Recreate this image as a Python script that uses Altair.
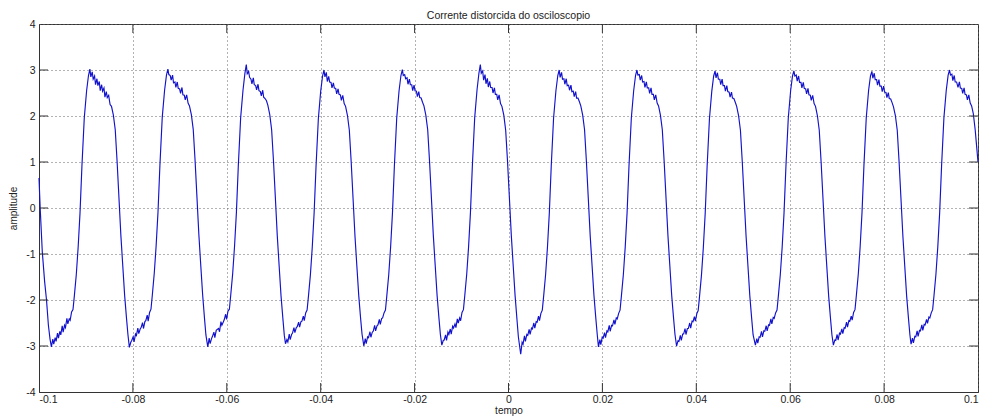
import altair as alt
import pandas as pd

# Oscilloscope capture: sample times (s) and current amplitude, one pair of lists per cycle.
tempo_0 = [-0.10000, -0.09975, -0.09930, -0.09880, -0.09840, -0.09800, -0.09765]
amp_0 = [0.65, 0.00, -0.95, -1.60, -2.00, -2.55, -2.85]

tempo_1 = [-0.09736, -0.09706, -0.09686, -0.09656, -0.09636, -0.09606, -0.09586, -0.09556, -0.09536, -0.09506, -0.09486, -0.09456, -0.09436, -0.09406, -0.09386, -0.09356, -0.09336, -0.09306,
           -0.09276, -0.09246, -0.09206, -0.09166, -0.09126, -0.09086, -0.09036, -0.08986, -0.08946, -0.08916,
           -0.08896, -0.08866, -0.08846, -0.08816, -0.08796, -0.08766, -0.08746, -0.08716, -0.08696, -0.08666, -0.08646, -0.08616, -0.08596, -0.08566, -0.08546, -0.08516, -0.08486, -0.08456,
           -0.08416, -0.08376, -0.08336, -0.08296, -0.08256, -0.08216, -0.08176, -0.08136, -0.08106]
amp_1 = [-3.02, -2.85, -2.96, -2.82, -2.90, -2.72, -2.83, -2.68, -2.76, -2.56, -2.70, -2.55, -2.60, -2.40, -2.52, -2.41, -2.44, -2.26,
         -2.21, -1.90, -1.45, -0.85, -0.10, 0.90, 1.95, 2.55, 2.88, 3.02,
         2.85, 2.96, 2.80, 2.87, 2.68, 2.81, 2.66, 2.75, 2.55, 2.68, 2.54, 2.61, 2.41, 2.53, 2.40, 2.45, 2.25, 2.21,
         2.02, 1.70, 1.00, 0.20, -0.60, -1.25, -1.90, -2.40, -2.75]

tempo_2 = [-0.08075, -0.08045, -0.08025, -0.07995, -0.07975, -0.07945, -0.07925, -0.07895, -0.07875, -0.07845, -0.07825, -0.07795, -0.07775, -0.07745, -0.07725, -0.07695, -0.07675, -0.07645,
           -0.07615, -0.07585, -0.07545, -0.07505, -0.07465, -0.07425, -0.07375, -0.07325, -0.07285, -0.07255,
           -0.07235, -0.07205, -0.07185, -0.07155, -0.07135, -0.07105, -0.07085, -0.07055, -0.07035, -0.07005, -0.06985, -0.06955, -0.06935, -0.06905, -0.06885, -0.06855, -0.06825, -0.06795,
           -0.06755, -0.06715, -0.06675, -0.06635, -0.06595, -0.06555, -0.06515, -0.06475, -0.06445]
amp_2 = [-3.03, -2.92, -2.88, -2.80, -2.91, -2.74, -2.77, -2.61, -2.73, -2.63, -2.60, -2.49, -2.62, -2.47, -2.45, -2.33, -2.46, -2.27,
         -2.20, -1.88, -1.42, -0.82, -0.08, 0.92, 1.97, 2.56, 2.89, 3.02,
         2.90, 2.88, 2.78, 2.89, 2.72, 2.74, 2.62, 2.74, 2.60, 2.59, 2.49, 2.62, 2.46, 2.45, 2.35, 2.46, 2.28, 2.22,
         2.03, 1.71, 1.02, 0.22, -0.58, -1.24, -1.88, -2.40, -2.76]

tempo_3 = [-0.06405, -0.06375, -0.06355, -0.06325, -0.06305, -0.06275, -0.06255, -0.06225, -0.06205, -0.06175, -0.06155, -0.06125, -0.06105, -0.06075, -0.06055, -0.06025, -0.06005, -0.05975,
           -0.05945, -0.05915, -0.05875, -0.05835, -0.05795, -0.05755, -0.05705, -0.05655, -0.05615, -0.05585,
           -0.05565, -0.05535, -0.05515, -0.05485, -0.05465, -0.05435, -0.05415, -0.05385, -0.05365, -0.05335, -0.05315, -0.05285, -0.05265, -0.05235, -0.05215, -0.05185, -0.05155, -0.05125,
           -0.05085, -0.05045, -0.05005, -0.04965, -0.04925, -0.04885, -0.04845, -0.04805, -0.04775]
amp_3 = [-3.02, -2.83, -2.95, -2.84, -2.79, -2.70, -2.82, -2.66, -2.64, -2.62, -2.69, -2.47, -2.55, -2.48, -2.43, -2.31, -2.42, -2.24,
         -2.20, -1.88, -1.43, -0.83, -0.09, 0.91, 1.96, 2.56, 2.92, 3.12,
         2.92, 2.97, 2.84, 2.80, 2.70, 2.83, 2.68, 2.66, 2.57, 2.69, 2.55, 2.53, 2.44, 2.56, 2.41, 2.38, 2.33, 2.23,
         2.03, 1.70, 1.01, 0.21, -0.60, -1.26, -1.91, -2.41, -2.77]

tempo_4 = [-0.04750, -0.04720, -0.04700, -0.04670, -0.04650, -0.04620, -0.04600, -0.04570, -0.04550, -0.04520, -0.04500, -0.04470, -0.04450, -0.04420, -0.04400, -0.04370, -0.04350, -0.04320,
           -0.04290, -0.04260, -0.04220, -0.04180, -0.04140, -0.04100, -0.04050, -0.04000, -0.03960, -0.03930,
           -0.03910, -0.03880, -0.03860, -0.03830, -0.03810, -0.03780, -0.03760, -0.03730, -0.03710, -0.03680, -0.03660, -0.03630, -0.03610, -0.03580, -0.03560, -0.03530, -0.03500, -0.03470,
           -0.03430, -0.03390, -0.03350, -0.03310, -0.03270, -0.03230, -0.03190, -0.03150, -0.03120]
amp_4 = [-2.95, -2.86, -2.91, -2.74, -2.86, -2.75, -2.72, -2.60, -2.71, -2.60, -2.58, -2.48, -2.59, -2.47, -2.46, -2.35, -2.45, -2.28,
         -2.22, -1.91, -1.46, -0.86, -0.11, 0.89, 1.94, 2.54, 2.87, 3.00,
         2.85, 2.95, 2.75, 2.86, 2.74, 2.73, 2.61, 2.72, 2.61, 2.60, 2.48, 2.59, 2.47, 2.46, 2.34, 2.45, 2.27, 2.21,
         2.01, 1.69, 0.99, 0.19, -0.61, -1.26, -1.90, -2.40, -2.74]

tempo_5 = [-0.03081, -0.03051, -0.03031, -0.03001, -0.02981, -0.02951, -0.02931, -0.02901, -0.02881, -0.02851, -0.02831, -0.02801, -0.02781, -0.02751, -0.02731, -0.02701, -0.02681, -0.02651,
           -0.02621, -0.02591, -0.02551, -0.02511, -0.02471, -0.02431, -0.02381, -0.02331, -0.02291, -0.02261,
           -0.02241, -0.02211, -0.02191, -0.02161, -0.02141, -0.02111, -0.02091, -0.02061, -0.02041, -0.02011, -0.01991, -0.01961, -0.01941, -0.01911, -0.01891, -0.01861, -0.01831, -0.01801,
           -0.01761, -0.01721, -0.01681, -0.01641, -0.01601, -0.01561, -0.01521, -0.01481, -0.01451]
amp_5 = [-3.00, -2.84, -2.95, -2.80, -2.82, -2.69, -2.81, -2.70, -2.68, -2.55, -2.67, -2.56, -2.54, -2.42, -2.53, -2.40, -2.39, -2.28,
         -2.22, -1.90, -1.45, -0.85, -0.10, 0.90, 1.95, 2.55, 2.88, 3.01,
         2.88, 2.90, 2.81, 2.83, 2.69, 2.80, 2.68, 2.68, 2.55, 2.67, 2.55, 2.54, 2.42, 2.53, 2.40, 2.39, 2.30, 2.22,
         2.02, 1.70, 1.00, 0.20, -0.60, -1.25, -1.90, -2.40, -2.75]

tempo_6 = [-0.01420, -0.01390, -0.01370, -0.01340, -0.01320, -0.01290, -0.01270, -0.01240, -0.01220, -0.01190, -0.01170, -0.01140, -0.01120, -0.01090, -0.01070, -0.01040, -0.01020, -0.00990,
           -0.00960, -0.00930, -0.00890, -0.00850, -0.00810, -0.00770, -0.00720, -0.00670, -0.00630, -0.00600,
           -0.00580, -0.00550, -0.00530, -0.00500, -0.00480, -0.00450, -0.00430, -0.00400, -0.00380, -0.00350, -0.00330, -0.00300, -0.00280, -0.00250, -0.00230, -0.00200, -0.00170, -0.00140,
           -0.00100, -0.00060, -0.00020, 0.00020, 0.00060, 0.00100, 0.00140, 0.00180, 0.00210]
amp_6 = [-2.98, -2.88, -2.87, -2.76, -2.88, -2.70, -2.75, -2.63, -2.74, -2.57, -2.61, -2.52, -2.60, -2.41, -2.50, -2.39, -2.45, -2.27,
         -2.21, -1.89, -1.44, -0.84, -0.09, 0.91, 1.96, 2.57, 2.93, 3.12,
         2.93, 2.98, 2.78, 2.90, 2.70, 2.82, 2.63, 2.75, 2.62, 2.62, 2.50, 2.61, 2.47, 2.47, 2.35, 2.46, 2.27, 2.21,
         2.02, 1.69, 1.00, 0.20, -0.60, -1.25, -1.90, -2.42, -2.80]

tempo_7 = [0.00260, 0.00290, 0.00310, 0.00340, 0.00360, 0.00390, 0.00410, 0.00440, 0.00460, 0.00490, 0.00510, 0.00540, 0.00560, 0.00590, 0.00610, 0.00640, 0.00660, 0.00690,
           0.00720, 0.00750, 0.00790, 0.00830, 0.00870, 0.00910, 0.00960, 0.01010, 0.01050, 0.01080,
           0.01100, 0.01130, 0.01150, 0.01180, 0.01200, 0.01230, 0.01250, 0.01280, 0.01300, 0.01330, 0.01350, 0.01380, 0.01400, 0.01430, 0.01450, 0.01480, 0.01510, 0.01540,
           0.01580, 0.01620, 0.01660, 0.01700, 0.01740, 0.01780, 0.01820, 0.01860, 0.01890]
amp_7 = [-3.18, -2.92, -2.96, -2.78, -2.90, -2.75, -2.77, -2.64, -2.75, -2.61, -2.63, -2.50, -2.61, -2.47, -2.48, -2.35, -2.45, -2.29,
         -2.22, -1.90, -1.45, -0.85, -0.10, 0.90, 1.95, 2.55, 2.88, 3.00,
         2.84, 2.95, 2.80, 2.81, 2.69, 2.81, 2.66, 2.67, 2.56, 2.67, 2.53, 2.54, 2.42, 2.53, 2.39, 2.39, 2.31, 2.22,
         2.02, 1.70, 1.00, 0.20, -0.60, -1.25, -1.90, -2.40, -2.75]

tempo_8 = [0.01916, 0.01946, 0.01966, 0.01996, 0.02016, 0.02046, 0.02066, 0.02096, 0.02116, 0.02146, 0.02166, 0.02196, 0.02216, 0.02246, 0.02266, 0.02296, 0.02316, 0.02346,
           0.02376, 0.02406, 0.02446, 0.02486, 0.02526, 0.02566, 0.02616, 0.02666, 0.02706, 0.02736,
           0.02756, 0.02786, 0.02806, 0.02836, 0.02856, 0.02886, 0.02906, 0.02936, 0.02956, 0.02986, 0.03006, 0.03036, 0.03056, 0.03086, 0.03106, 0.03136, 0.03166, 0.03196,
           0.03236, 0.03276, 0.03316, 0.03356, 0.03396, 0.03436, 0.03476, 0.03516, 0.03546]
amp_8 = [-3.02, -2.86, -2.97, -2.81, -2.83, -2.71, -2.82, -2.67, -2.69, -2.55, -2.68, -2.55, -2.56, -2.43, -2.53, -2.39, -2.41, -2.29,
         -2.22, -1.90, -1.45, -0.85, -0.10, 0.90, 1.95, 2.55, 2.88, 3.00,
         2.89, 2.90, 2.78, 2.88, 2.74, 2.75, 2.62, 2.74, 2.61, 2.61, 2.49, 2.61, 2.47, 2.47, 2.35, 2.46, 2.28, 2.22,
         2.02, 1.70, 1.00, 0.20, -0.60, -1.25, -1.90, -2.40, -2.75]

tempo_9 = [0.03580, 0.03610, 0.03630, 0.03660, 0.03680, 0.03710, 0.03730, 0.03760, 0.03780, 0.03810, 0.03830, 0.03860, 0.03880, 0.03910, 0.03930, 0.03960, 0.03980, 0.04010,
           0.04040, 0.04070, 0.04110, 0.04150, 0.04190, 0.04230, 0.04280, 0.04330, 0.04370, 0.04400,
           0.04420, 0.04450, 0.04470, 0.04500, 0.04520, 0.04550, 0.04570, 0.04600, 0.04620, 0.04650, 0.04670, 0.04700, 0.04720, 0.04750, 0.04770, 0.04800, 0.04830, 0.04860,
           0.04900, 0.04940, 0.04980, 0.05020, 0.05060, 0.05100, 0.05140, 0.05180, 0.05210]
amp_9 = [-3.00, -2.89, -2.90, -2.77, -2.88, -2.74, -2.74, -2.62, -2.75, -2.62, -2.62, -2.50, -2.61, -2.46, -2.47, -2.36, -2.46, -2.30,
         -2.23, -1.91, -1.46, -0.86, -0.11, 0.89, 1.94, 2.54, 2.87, 2.98,
         2.83, 2.94, 2.80, 2.80, 2.68, 2.80, 2.66, 2.66, 2.54, 2.66, 2.53, 2.52, 2.41, 2.52, 2.39, 2.38, 2.30, 2.21,
         2.01, 1.69, 0.99, 0.19, -0.61, -1.26, -1.91, -2.41, -2.76]

tempo_10 = [0.05259, 0.05289, 0.05309, 0.05339, 0.05359, 0.05389, 0.05409, 0.05439, 0.05459, 0.05489, 0.05509, 0.05539, 0.05559, 0.05589, 0.05609, 0.05639, 0.05659, 0.05689,
            0.05719, 0.05749, 0.05789, 0.05829, 0.05869, 0.05909, 0.05959, 0.06009, 0.06049, 0.06079,
            0.06099, 0.06129, 0.06149, 0.06179, 0.06199, 0.06229, 0.06249, 0.06279, 0.06299, 0.06329, 0.06349, 0.06379, 0.06399, 0.06429, 0.06449, 0.06479, 0.06509, 0.06539,
            0.06579, 0.06619, 0.06659, 0.06699, 0.06739, 0.06779, 0.06819, 0.06859, 0.06889]
amp_10 = [-2.98, -2.84, -2.94, -2.80, -2.81, -2.68, -2.80, -2.67, -2.68, -2.56, -2.67, -2.54, -2.55, -2.41, -2.52, -2.38, -2.40, -2.28,
          -2.22, -1.90, -1.45, -0.85, -0.10, 0.90, 1.95, 2.55, 2.87, 2.98,
          2.87, 2.89, 2.76, 2.87, 2.73, 2.73, 2.61, 2.73, 2.60, 2.59, 2.48, 2.60, 2.46, 2.45, 2.34, 2.45, 2.27, 2.21,
          2.01, 1.69, 0.99, 0.19, -0.61, -1.26, -1.91, -2.41, -2.76]

tempo_11 = [0.06920, 0.06950, 0.06970, 0.07000, 0.07020, 0.07050, 0.07070, 0.07100, 0.07120, 0.07150, 0.07170, 0.07200, 0.07220, 0.07250, 0.07270, 0.07300, 0.07320, 0.07350,
            0.07380, 0.07410, 0.07450, 0.07490, 0.07530, 0.07570, 0.07620, 0.07670, 0.07710, 0.07740,
            0.07760, 0.07790, 0.07810, 0.07840, 0.07860, 0.07890, 0.07910, 0.07940, 0.07960, 0.07990, 0.08010, 0.08040, 0.08060, 0.08090, 0.08110, 0.08140, 0.08170, 0.08200,
            0.08240, 0.08280, 0.08320, 0.08360, 0.08400, 0.08440, 0.08480, 0.08520, 0.08550]
amp_11 = [-2.98, -2.87, -2.88, -2.75, -2.87, -2.72, -2.74, -2.63, -2.73, -2.60, -2.61, -2.48, -2.59, -2.45, -2.46, -2.35, -2.44, -2.27,
          -2.21, -1.89, -1.44, -0.84, -0.09, 0.91, 1.96, 2.56, 2.87, 2.97,
          2.82, 2.93, 2.79, 2.79, 2.67, 2.79, 2.65, 2.65, 2.53, 2.65, 2.52, 2.51, 2.40, 2.51, 2.38, 2.37, 2.29, 2.20,
          2.01, 1.69, 0.99, 0.19, -0.61, -1.26, -1.91, -2.41, -2.76]

tempo_12 = [0.08574, 0.08604, 0.08624, 0.08654, 0.08674, 0.08704, 0.08724, 0.08754, 0.08774, 0.08804, 0.08824, 0.08854, 0.08874, 0.08904, 0.08924, 0.08954, 0.08974, 0.09004,
            0.09034, 0.09064, 0.09104, 0.09144, 0.09184, 0.09224, 0.09274, 0.09324, 0.09364, 0.09394,
            0.09414, 0.09444, 0.09464, 0.09494, 0.09514, 0.09544, 0.09574, 0.09604, 0.09624, 0.09654, 0.09674, 0.09704, 0.09724, 0.09754, 0.09774, 0.09804, 0.09834, 0.09864,
            0.09900, 0.09940, 0.09970, 0.10000]
amp_12 = [-2.96, -2.83, -2.93, -2.79, -2.80, -2.67, -2.79, -2.66, -2.67, -2.54, -2.66, -2.53, -2.54, -2.42, -2.51, -2.37, -2.39, -2.28,
          -2.21, -1.89, -1.44, -0.84, -0.09, 0.91, 1.96, 2.56, 2.89, 3.00,
          2.89, 2.91, 2.77, 2.88, 2.74, 2.74, 2.62, 2.74, 2.61, 2.60, 2.49, 2.61, 2.47, 2.46, 2.35, 2.46, 2.28, 2.22,
          2.05, 1.70, 1.35, 1.00]

x_ticks = [-0.1, -0.08, -0.06, -0.04, -0.02, 0, 0.02, 0.04, 0.06, 0.08, 0.1]
y_ticks = [-4, -3, -2, -1, 0, 1, 2, 3, 4]

tempos = [tempo_0, tempo_1, tempo_2, tempo_3, tempo_4, tempo_5, tempo_6,
          tempo_7, tempo_8, tempo_9, tempo_10, tempo_11, tempo_12]
amps = [amp_0, amp_1, amp_2, amp_3, amp_4, amp_5, amp_6,
        amp_7, amp_8, amp_9, amp_10, amp_11, amp_12]

rows = []
for ts, vs in zip(tempos, amps):
    rows.extend(zip(ts, vs))
sinal = pd.DataFrame(rows, columns=["tempo", "amplitude"])

W, H = 939, 368
FONT = "Liberation Sans"
INK = "#333333"
TEXT = "#222222"

xs = alt.Scale(domain=[-0.1, 0.1], nice=False, zero=False)
ys = alt.Scale(domain=[-4, 4], nice=False, zero=False)

x_axis = alt.Axis(
    values=x_ticks,
    labelExpr="datum.value < 0 ? '-' + format(-datum.value, '.2~f') : format(datum.value, '.2~f')",
    grid=True, gridDash=[1, 3], gridColor="#666666", gridWidth=1,
    ticks=False, domain=True, domainColor=INK, domainWidth=1,
    labelFont=FONT, labelFontSize=10.5, labelColor=TEXT, labelPadding=2,
    titleFont=FONT, titleFontSize=10, titleFontWeight="normal", titleColor=TEXT, titlePadding=1,
)
y_axis = alt.Axis(
    values=y_ticks,
    labelExpr="datum.value < 0 ? '-' + format(-datum.value, 'd') : format(datum.value, 'd')",
    grid=True, gridDash=[1, 3], gridColor="#666666", gridWidth=1,
    ticks=False, domain=True, domainColor=INK, domainWidth=1,
    labelFont=FONT, labelFontSize=10.5, labelColor=TEXT, labelPadding=4,
    titleFont=FONT, titleFontSize=10, titleFontWeight="normal", titleColor=TEXT, titlePadding=7,
)

x_enc = alt.X("tempo:Q", scale=xs, axis=x_axis, title="tempo")
y_enc = alt.Y("amplitude:Q", scale=ys, axis=y_axis, title="amplitude")

linha = alt.Chart(sinal).mark_line(color="#1212cc", strokeWidth=1.15).encode(
    x=x_enc,
    y=y_enc,
)

# Inward tick marks on all four sides of the box
marcas_x = pd.DataFrame({"tempo": x_ticks[1:-1]})
marcas_y = pd.DataFrame({"amplitude": y_ticks[1:-1]})

tick_style = dict(color=INK, strokeWidth=1)

base_inf = alt.Chart(marcas_x).mark_rule(**tick_style).encode(
    x=x_enc, y=alt.value(H), y2=alt.value(H - 9))
base_sup = alt.Chart(marcas_x).mark_rule(**tick_style).encode(
    x=x_enc, y=alt.value(0), y2=alt.value(9))
lado_esq = alt.Chart(marcas_y).mark_rule(**tick_style).encode(
    y=y_enc, x=alt.value(0), x2=alt.value(9))
lado_dir = alt.Chart(marcas_y).mark_rule(**tick_style).encode(
    y=y_enc, x=alt.value(W), x2=alt.value(W - 9))

chart = alt.layer(linha, base_inf, base_sup, lado_esq, lado_dir).properties(
    width=W,
    height=H,
    title=alt.TitleParams(
        "Corrente distorcida do osciloscopio",
        font=FONT, fontSize=10.5, fontWeight="normal", color=TEXT,
        anchor="middle", offset=-2,
    ),
    autosize=alt.AutoSizeParams(type="none"),
    padding={"left": 39, "top": 24, "right": 4, "bottom": 24},
    background="white",
).configure_view(stroke=INK, strokeWidth=1)

chart.save("out.html", embed_options={"renderer": "svg", "actions": False})
